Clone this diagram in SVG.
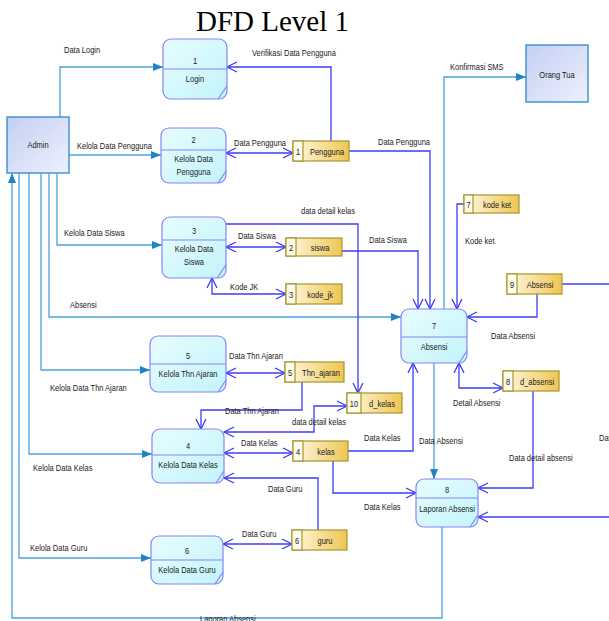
<svg xmlns="http://www.w3.org/2000/svg" width="609" height="621" viewBox="0 0 609 621">
  <style>
    text { font-family: "Liberation Sans", Arial, sans-serif; font-size: 9.6px; fill: #1a1a1a;
           transform-box: fill-box; transform-origin: 0 50%; transform: scaleX(0.78); }
    .c { text-anchor: middle; transform-origin: 50% 50%; }
    .title { font-family: "Liberation Serif", "Times New Roman", serif; font-size: 29px; fill: #000; transform: none; }
    .ext { fill: url(#gExt); stroke: #3a8fd0; stroke-width: 1.4; }
    .proc { fill: url(#gProc); stroke: #8585f7; stroke-width: 1.2; }
    .pline { stroke: #8585f7; stroke-width: 1.2; fill: none; }
    .store { fill: url(#gStore); stroke: #a3962c; stroke-width: 1.2; }
    .cell { fill: #fffcee; stroke: #a3962c; stroke-width: 1.2; }
    .a { fill: none; stroke: #4aa3dc; stroke-width: 1.3; }
    .a.end { marker-end: url(#tri); }
    .b { fill: none; stroke: #3c3cf4; stroke-width: 1.3; marker-end: url(#vee); }
    .b.both { marker-start: url(#vee); }
    .b.plain { marker-end: none; }
  </style>
  <defs>
    <linearGradient id="gExt" x1="0" y1="0" x2="1" y2="1">
      <stop offset="0" stop-color="#c3cff3"/>
      <stop offset="1" stop-color="#eef0fc"/>
    </linearGradient>
    <linearGradient id="gProc" x1="0" y1="0" x2="1" y2="1">
      <stop offset="0" stop-color="#e8fdff"/>
      <stop offset="1" stop-color="#c2f4fb"/>
    </linearGradient>
    <linearGradient id="gStore" x1="0" y1="0" x2="1" y2="0">
      <stop offset="0" stop-color="#fff9e4"/>
      <stop offset="1" stop-color="#efc653"/>
    </linearGradient>
    <marker id="tri" viewBox="0 0 10 8" refX="10" refY="4" markerWidth="10" markerHeight="8" markerUnits="userSpaceOnUse" orient="auto">
      <path d="M0,0 L10,4 L0,8 z" fill="#1e84c6"/>
    </marker>
    <marker id="vee" viewBox="0 0 10 10" refX="10" refY="5" markerWidth="10" markerHeight="10" markerUnits="userSpaceOnUse" orient="auto-start-reverse" overflow="visible">
      <path d="M0,0 L10,5 L0,10" fill="none" stroke="#3c3cf4" stroke-width="1.3"/>
    </marker>
  </defs>

  <rect width="609" height="621" fill="#ffffff"/>
  <text class="title" x="196" y="31">DFD Level 1</text>

  <!-- data flows -->
  <g id="connectors">
    <!-- flows from / to Admin and Orang Tua -->
    <path class="a end" d="M60,117 V67 H163"/>
    <path class="a end" d="M69,155 H161"/>
    <path class="a end" d="M57,173 V245 H162"/>
    <path class="a end" d="M49,173 V317 H401"/>
    <path class="a end" d="M41,173 V370 H150"/>
    <path class="a end" d="M29,173 V454 H152"/>
    <path class="a end" d="M19,173 V558 H151"/>
    <path class="a end" d="M442,527 V618 H12 V173"/>
    <path class="a end" d="M444,309 V77 H526"/>
    <path class="a end" d="M434,363 V479"/>

    <!-- flows between processes and data stores -->
    <path class="b" d="M331,141 V67 H227"/>
    <path class="b both" d="M226,153 H293"/>
    <path class="b" d="M349,151 H430 V309"/>
    <path class="b" d="M226,224 H358 V393"/>
    <path class="b both" d="M226,247 H286"/>
    <path class="b" d="M342,251 H418 V309"/>
    <path class="b both" d="M286,294 H212 V278"/>
    <path class="b both" d="M226,373 H285"/>
    <path class="b" d="M302,382 V410 H201 V429"/>
    <path class="b both" d="M224,432 H314 V406 H347"/>
    <path class="b both" d="M224,453 H293"/>
    <path class="b" d="M348,451 H413 V363"/>
    <path class="b" d="M333,461 V493 H416"/>
    <path class="b" d="M318,530 V478 H224"/>
    <path class="b both" d="M223,544 H292"/>
    <path class="b" d="M464,204 H457 V309"/>
    <path class="b" d="M537,294 V317 H467"/>
    <path class="b plain" d="M562,284 H609"/>
    <path class="b both" d="M459,363 V388 H503"/>
    <path class="b" d="M533,391 V488 H478"/>
    <path class="b" d="M609,517 H478"/>

    <!-- flow labels -->
    <text x="64" y="53">Data Login</text>
    <text x="252" y="56">Verifikasi Data Pengguna</text>
    <text x="77" y="149">Kelola Data Pengguna</text>
    <text x="234" y="146">Data Pengguna</text>
    <text x="378" y="145">Data Pengguna</text>
    <text x="450" y="70">Konfirmasi SMS</text>
    <text x="301" y="214">data detail kelas</text>
    <text x="64" y="236">Kelola Data Siswa</text>
    <text x="238" y="239">Data Siswa</text>
    <text x="369" y="243">Data Siswa</text>
    <text x="465" y="244">Kode ket</text>
    <text x="230" y="290">Kode JK</text>
    <text x="70" y="308">Absensi</text>
    <text x="491" y="339">Data Absensi</text>
    <text x="229" y="359">Data Thn Ajaran</text>
    <text x="50" y="391">Kelola Data Thn Ajaran</text>
    <text x="453" y="406">Detail Absensi</text>
    <text x="225" y="414">Data Thn Ajaran</text>
    <text x="292" y="425">data detail kelas</text>
    <text x="241" y="446">Data Kelas</text>
    <text x="364" y="441">Data Kelas</text>
    <text x="419" y="444">Data Absensi</text>
    <text x="599" y="441">Data</text>
    <text x="509" y="461">Data detail absensi</text>
    <text x="33" y="471">Kelola Data Kelas</text>
    <text x="268" y="492">Data Guru</text>
    <text x="364" y="510">Data Kelas</text>
    <text x="242" y="537">Data Guru</text>
    <text x="30" y="551">Kelola Data Guru</text>
    <text x="200" y="622">Laporan Absensi</text>
  </g>

  <!-- external entities -->
  <g id="admin">
    <rect class="ext" x="7" y="117" width="62" height="56"/>
    <text class="c" x="38" y="148">Admin</text>
  </g>
  <g id="orang-tua">
    <rect class="ext" x="526" y="45" width="62" height="57"/>
    <text class="c" x="557" y="78">Orang Tua</text>
  </g>

  <!-- processes -->
  <g id="p1">
    <rect class="proc" x="163" y="39" width="64" height="60" rx="8"/>
    <path class="pline" d="M163,69 H227 M227,86 L218,99"/>
    <text class="c" x="195" y="64">1</text>
    <text class="c" x="195" y="82">Login</text>
  </g>
  <g id="p2">
    <rect class="proc" x="161" y="128" width="65" height="55" rx="8"/>
    <path class="pline" d="M161,150 H226 M226,171 L218,183"/>
    <text class="c" x="193.5" y="143">2</text>
    <text class="c" x="193.5" y="162">Kelola Data</text>
    <text class="c" x="193.5" y="175">Pengguna</text>
  </g>
  <g id="p3">
    <rect class="proc" x="162" y="217" width="64" height="61" rx="8"/>
    <path class="pline" d="M162,240 H226 M226,265 L217,278"/>
    <text class="c" x="194" y="234">3</text>
    <text class="c" x="194" y="252">Kelola Data</text>
    <text class="c" x="194" y="265">Siswa</text>
  </g>
  <g id="p5">
    <rect class="proc" x="150" y="336" width="76" height="56" rx="8"/>
    <path class="pline" d="M150,364 H226 M226,380 L218,392"/>
    <text class="c" x="188" y="359">5</text>
    <text class="c" x="188" y="377">Kelola Thn Ajaran</text>
  </g>
  <g id="p4">
    <rect class="proc" x="152" y="429" width="72" height="54" rx="8"/>
    <path class="pline" d="M152,455 H224 M224,471 L216,483"/>
    <text class="c" x="188" y="449">4</text>
    <text class="c" x="188" y="468">Kelola Data Kelas</text>
  </g>
  <g id="p6">
    <rect class="proc" x="151" y="536" width="72" height="48" rx="8"/>
    <path class="pline" d="M151,560 H223 M223,572 L215,584"/>
    <text class="c" x="187" y="554">6</text>
    <text class="c" x="187" y="573">Kelola Data Guru</text>
  </g>
  <g id="p7">
    <rect class="proc" x="401" y="309" width="66" height="54" rx="8"/>
    <path class="pline" d="M401,337 H467 M467,351 L459,363"/>
    <text class="c" x="434" y="329">7</text>
    <text class="c" x="434" y="350">Absensi</text>
  </g>
  <g id="p8">
    <rect class="proc" x="416" y="479" width="62" height="48" rx="8"/>
    <path class="pline" d="M416,498 H478 M478,515 L470,527"/>
    <text class="c" x="447" y="493">8</text>
    <text class="c" x="447" y="512">Laporan Absensi</text>
  </g>

  <!-- data stores -->
  <g id="ds1">
    <rect class="store" x="293" y="141" width="56" height="20"/>
    <rect class="cell" x="293" y="141" width="10" height="20"/>
    <text class="c" x="298" y="155">1</text>
    <text class="c" x="327" y="155">Pengguna</text>
  </g>
  <g id="ds2">
    <rect class="store" x="286" y="238" width="56" height="18"/>
    <rect class="cell" x="286" y="238" width="10" height="18"/>
    <text class="c" x="291" y="251">2</text>
    <text class="c" x="320" y="251">siswa</text>
  </g>
  <g id="ds3">
    <rect class="store" x="286" y="284" width="56" height="20"/>
    <rect class="cell" x="286" y="284" width="10" height="20"/>
    <text class="c" x="291" y="298">3</text>
    <text class="c" x="320" y="298">kode_jk</text>
  </g>
  <g id="ds5">
    <rect class="store" x="285" y="362" width="59" height="20"/>
    <rect class="cell" x="285" y="362" width="10" height="20"/>
    <text class="c" x="290" y="376">5</text>
    <text class="c" x="321" y="376">Thn_ajaran</text>
  </g>
  <g id="ds10">
    <rect class="store" x="347" y="393" width="55" height="20"/>
    <rect class="cell" x="347" y="393" width="14" height="20"/>
    <text class="c" x="354" y="407">10</text>
    <text class="c" x="382" y="407">d_kelas</text>
  </g>
  <g id="ds4">
    <rect class="store" x="293" y="441" width="55" height="20"/>
    <rect class="cell" x="293" y="441" width="10" height="20"/>
    <text class="c" x="298" y="455">4</text>
    <text class="c" x="326" y="455">kelas</text>
  </g>
  <g id="ds6">
    <rect class="store" x="292" y="530" width="55" height="20"/>
    <rect class="cell" x="292" y="530" width="10" height="20"/>
    <text class="c" x="297" y="544">6</text>
    <text class="c" x="325" y="544">guru</text>
  </g>
  <g id="ds7">
    <rect class="store" x="464" y="195" width="55" height="18"/>
    <rect class="cell" x="464" y="195" width="9" height="18"/>
    <text class="c" x="468.5" y="208">7</text>
    <text class="c" x="497" y="208">kode ket</text>
  </g>
  <g id="ds9">
    <rect class="store" x="507" y="274" width="55" height="20"/>
    <rect class="cell" x="507" y="274" width="10" height="20"/>
    <text class="c" x="512" y="288">9</text>
    <text class="c" x="540" y="288">Absensi</text>
  </g>
  <g id="ds8">
    <rect class="store" x="503" y="371" width="56" height="20"/>
    <rect class="cell" x="503" y="371" width="10" height="20"/>
    <text class="c" x="508" y="385">8</text>
    <text class="c" x="537" y="385">d_absensi</text>
  </g>
</svg>
